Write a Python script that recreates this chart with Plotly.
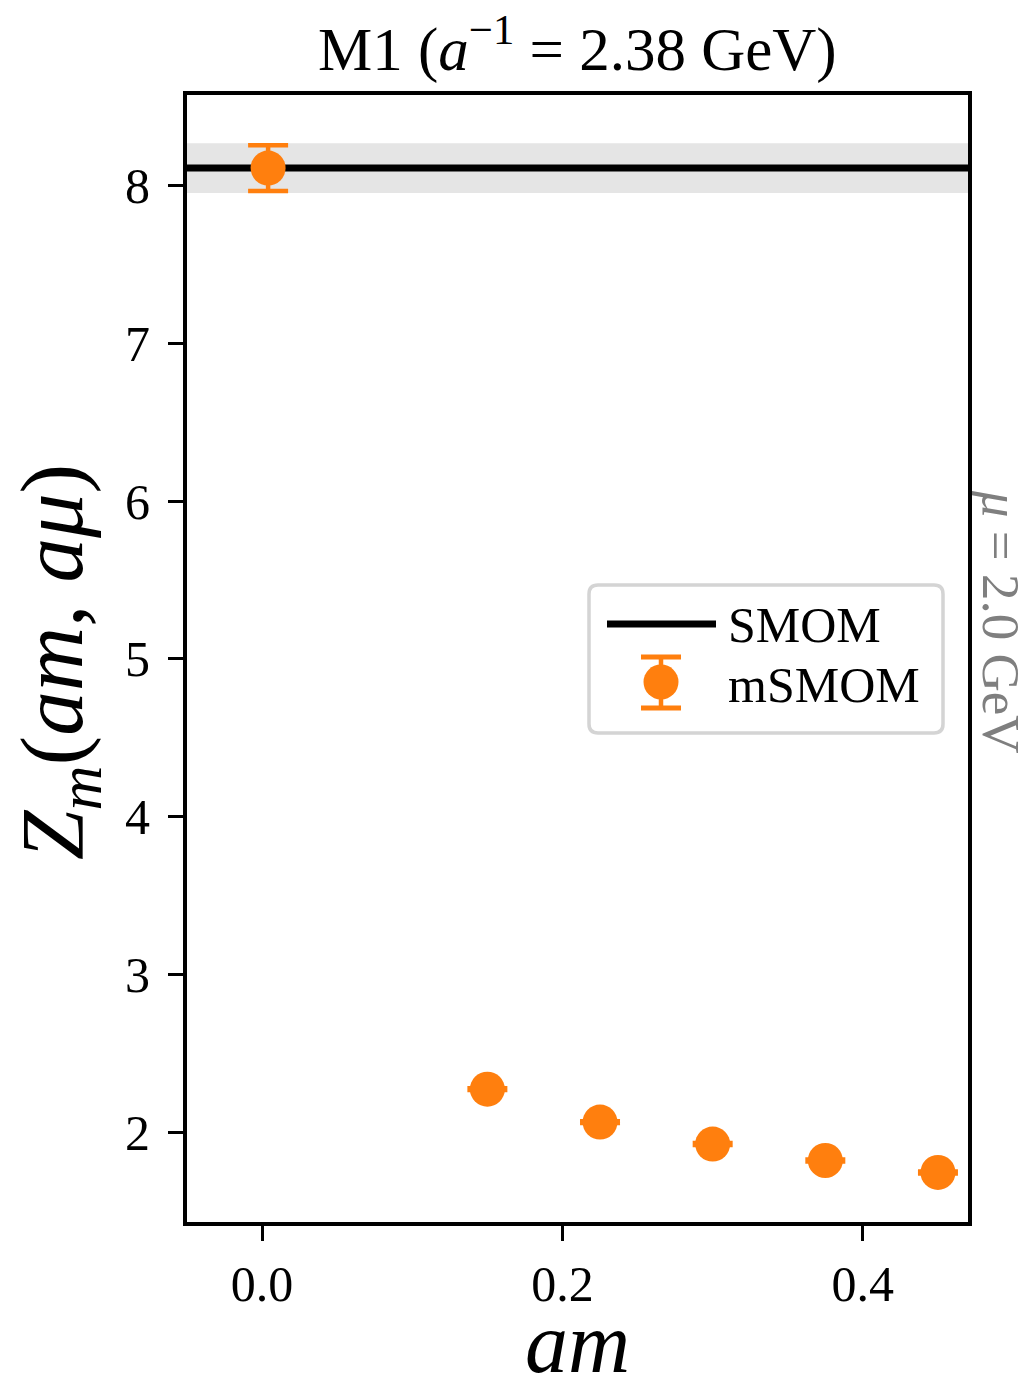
import plotly.graph_objects as go

# mSMOM mass renormalisation on ensemble M1 versus bare quark mass
am_vals = [0.004, 0.15, 0.225, 0.3, 0.375, 0.45]
zm_vals = [8.111, 2.274, 2.065, 1.926, 1.822, 1.746]
zm_errs = [0.145, 0.006, 0.006, 0.006, 0.006, 0.006]

# massless SMOM reference value and its uncertainty
smom_val = 8.111
smom_err = 0.158

x_range = [-0.05, 0.47]
y_range = [1.432, 8.574]
x_ticks = [0.0, 0.2, 0.4]
y_ticks = [2, 3, 4, 5, 6, 7, 8]

ORANGE = "#ff7f0e"
FONT = "Liberation Serif"

W, H = 1036, 1394
ML, MR, MT, MB = 187, 68, 95, 172
PW, PH = W - ML - MR, H - MT - MB


def px(xp):
    return (xp - ML) / PW


def py(yp):
    return 1 - (yp - MT) / PH


fig = go.Figure()

fig.add_trace(go.Scatter(
    x=am_vals, y=zm_vals,
    mode="markers",
    marker=dict(size=35, color=ORANGE, line=dict(width=0)),
    error_y=dict(type="data", array=zm_errs, visible=True,
                 color=ORANGE, thickness=4.5, width=20),
    name="mSMOM", showlegend=False,
))

shapes = [
    # SMOM uncertainty band and central value
    dict(type="rect", xref="paper", yref="y", x0=0, x1=1,
         y0=smom_val - smom_err, y1=smom_val + smom_err,
         fillcolor="#e5e5e5", line=dict(width=0), layer="below"),
    dict(type="line", xref="paper", yref="y", x0=0, x1=1,
         y0=smom_val, y1=smom_val,
         line=dict(color="black", width=7), layer="below"),
]

# legend box with rounded corners
bx0, bx1, by0, by1 = px(589), px(943), py(733), py(585)
rx, ry = 9 / PW, 9 / PH
box_path = (
    f"M{bx0 + rx},{by0} L{bx1 - rx},{by0} Q{bx1},{by0} {bx1},{by0 + ry} "
    f"L{bx1},{by1 - ry} Q{bx1},{by1} {bx1 - rx},{by1} "
    f"L{bx0 + rx},{by1} Q{bx0},{by1} {bx0},{by1 - ry} "
    f"L{bx0},{by0 + ry} Q{bx0},{by0} {bx0 + rx},{by0} Z"
)
shapes.append(dict(type="path", xref="paper", yref="paper", path=box_path,
                   fillcolor="rgba(255,255,255,0.8)",
                   line=dict(color="#d4d4d4", width=3.5), layer="above"))
# legend glyph: SMOM line
shapes.append(dict(type="line", xref="paper", yref="paper",
                   x0=px(607), x1=px(716), y0=py(624), y1=py(624),
                   line=dict(color="black", width=7), layer="above"))
# legend glyph: mSMOM marker with error bar
gx, gy = px(661), py(682)
shapes += [
    dict(type="line", xref="paper", yref="paper", x0=gx, x1=gx,
         y0=py(708), y1=py(657), line=dict(color=ORANGE, width=4.5), layer="above"),
    dict(type="line", xref="paper", yref="paper", x0=px(641), x1=px(681),
         y0=py(657), y1=py(657), line=dict(color=ORANGE, width=5), layer="above"),
    dict(type="line", xref="paper", yref="paper", x0=px(641), x1=px(681),
         y0=py(708), y1=py(708), line=dict(color=ORANGE, width=5), layer="above"),
    dict(type="circle", xref="paper", yref="paper",
         xsizemode="pixel", ysizemode="pixel", xanchor=gx, yanchor=gy,
         x0=-17.5, x1=17.5, y0=-17.5, y1=17.5,
         fillcolor=ORANGE, line=dict(width=0), layer="above"),
]

annotations = [
    dict(text="SMOM", xref="paper", yref="paper", x=px(726), y=py(625),
         xanchor="left", yanchor="middle", showarrow=False,
         font=dict(family=FONT, size=50, color="black")),
    dict(text="mSMOM", xref="paper", yref="paper", x=px(726), y=py(685),
         xanchor="left", yanchor="middle", showarrow=False,
         font=dict(family=FONT, size=50, color="black")),
    # renormalisation scale label on the right spine
    dict(text="<i>μ</i> = 2.0 GeV", xref="paper", yref="paper",
         x=px(1001), y=py(622), xanchor="center", yanchor="middle",
         textangle=90, showarrow=False,
         font=dict(family=FONT, size=53, color="#7f7f7f")),
    # axis titles
    dict(text="<i>am</i>", xref="paper", yref="paper",
         x=0.5, y=py(1393), xanchor="center", yanchor="bottom",
         showarrow=False, font=dict(family=FONT, size=86, color="black")),
    dict(text="<i>Z</i><sub><i>m</i></sub>(<i>am</i>, <i>aμ</i>)",
         xref="paper", yref="paper", x=px(58), y=py(662),
         xanchor="center", yanchor="middle", textangle=-90,
         showarrow=False, font=dict(family=FONT, size=89, color="black")),
    # title
    dict(text="M1 (<i>a</i><sup>−1</sup> = 2.38 GeV)", xref="paper", yref="paper",
         x=0.5, y=py(45), xanchor="center", yanchor="middle",
         showarrow=False, font=dict(family=FONT, size=61, color="black")),
]

axis_common = dict(
    showgrid=False, zeroline=False,
    showline=True, linecolor="black", linewidth=4, mirror=True,
    ticks="outside", ticklen=15, tickwidth=3, tickcolor="black",
    tickfont=dict(family=FONT, size=50, color="black"),
)

fig.update_layout(
    width=W, height=H,
    margin=dict(l=ML, r=MR, t=MT, b=MB, autoexpand=False),
    paper_bgcolor="white", plot_bgcolor="white",
    showlegend=False,
    xaxis=dict(range=x_range, tickvals=x_ticks, tickformat=".1f",
               ticklabelstandoff=0, **axis_common),
    yaxis=dict(range=y_range, tickvals=y_ticks, ticklabelstandoff=8,
               **axis_common),
    shapes=shapes, annotations=annotations,
)

fig.write_html("out.html")
